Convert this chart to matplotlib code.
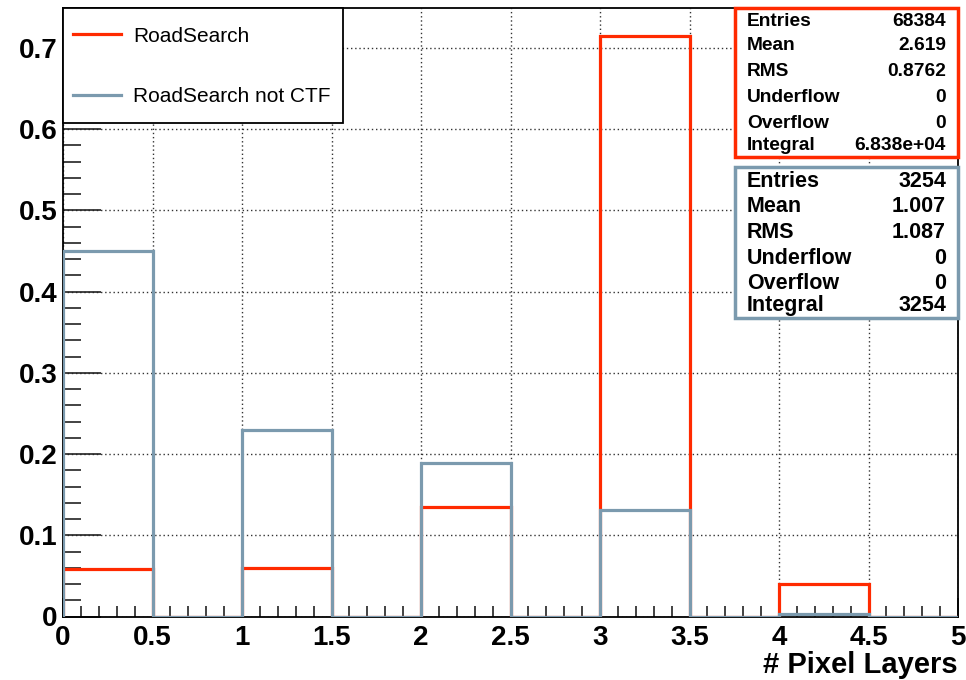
import numpy as np
import matplotlib.pyplot as plt
from matplotlib.patches import Rectangle
from matplotlib.ticker import MultipleLocator

plt.rcParams['font.family'] = ['Liberation Sans', 'DejaVu Sans']

edges = [0, 0.5, 1, 1.5, 2, 2.5, 3, 3.5, 4, 4.5, 5]
road_search = [0.058, 0, 0.060, 0, 0.135, 0, 0.715, 0, 0.040, 0]
road_not_ctf = [0.450, 0, 0.230, 0, 0.189, 0, 0.131, 0, 0.003, 0]

stat_names = ["Entries", "Mean", "RMS", "Underflow", "Overflow", "Integral"]
stats_rs = ["68384", "2.619", "0.8762", "0", "0", "6.838e+04"]
stats_ctf = ["3254", "1.007", "1.087", "0", "0", "3254"]

red = '#ff2a00'
blue = '#7b9aae'
W, H = 966, 680

fig = plt.figure(figsize=(9.66, 6.8), dpi=100)
ax = fig.add_axes([63 / W, 1 - 616.5 / H, (958 - 63) / W, (616.5 - 8) / H])

h1 = ax.stairs(road_search, edges, color=red, linewidth=2.3, label="RoadSearch", zorder=3)
h2 = ax.stairs(road_not_ctf, edges, color=blue, linewidth=2.3, label="RoadSearch not CTF", zorder=4)

ax.set_xlim(0, 5)
ax.set_ylim(0, 0.749)
ax.xaxis.set_major_locator(MultipleLocator(0.5))
ax.xaxis.set_minor_locator(MultipleLocator(0.1))
ax.yaxis.set_major_locator(MultipleLocator(0.1))
ax.yaxis.set_minor_locator(MultipleLocator(0.02))
ax.xaxis.set_major_formatter(plt.FuncFormatter(lambda v, p: f"{v:g}"))
ax.yaxis.set_major_formatter(plt.FuncFormatter(lambda v, p: f"{v:g}"))
ax.tick_params(which='both', direction='in', top=False, right=False,
               labelsize=20, width=1.2, color='#222222')
ax.tick_params(axis='y', which='major', length=27, pad=4)
ax.tick_params(axis='y', which='minor', length=13)
ax.tick_params(axis='x', which='major', length=14, pad=6)
ax.tick_params(axis='x', which='minor', length=8)
for lab in ax.get_xticklabels() + ax.get_yticklabels():
    lab.set_fontweight('bold')
for s in ax.spines.values():
    s.set_linewidth(1.3)
ax.grid(True, which='major', linestyle=(0, (1, 2)), color='#333333', linewidth=1.0)
ax.set_xlabel("# Pixel Layers", fontsize=21, fontweight='bold', ha='right', va='center')
ax.xaxis.set_label_coords(1.0, -(665 - 616.5) / (616.5 - 8))

# legend box
fig.add_artist(Rectangle((63 / W, 1 - 123 / H), (343 - 63) / W, (123 - 8) / H,
                         transform=fig.transFigure, facecolor='white',
                         edgecolor='black', linewidth=1.3, zorder=8))
leg = fig.legend(handles=[h1, h2], loc='center left', bbox_to_anchor=(73 / W, 1 - 66.5 / H),
                 bbox_transform=fig.transFigure, frameon=False, fontsize=15,
                 borderpad=0, labelspacing=2.0, handlelength=2.3, handletextpad=0.6,
                 borderaxespad=0)
leg.set_zorder(10)

def stat_box(y0, y1, color, values, fs, ys):
    fig.add_artist(Rectangle((735 / W, 1 - y1 / H), (958 - 735) / W, (y1 - y0) / H,
                             transform=fig.transFigure, facecolor='white',
                             edgecolor=color, linewidth=2.5, zorder=20))
    for name, val, y in zip(stat_names, values, ys):
        fig.text(747 / W, 1 - y / H, name, fontsize=fs, fontweight='bold',
                 va='center', ha='left', zorder=21)
        fig.text(946 / W, 1 - y / H, val, fontsize=fs, fontweight='bold',
                 va='center', ha='right', zorder=21)

stat_box(8, 157, red, stats_rs, 13.8, [21, 46, 72, 97, 123, 146])
stat_box(167, 318, blue, stats_ctf, 15.5, [182, 207, 232, 258, 283, 306])

plt.savefig("out.png", dpi=100)
